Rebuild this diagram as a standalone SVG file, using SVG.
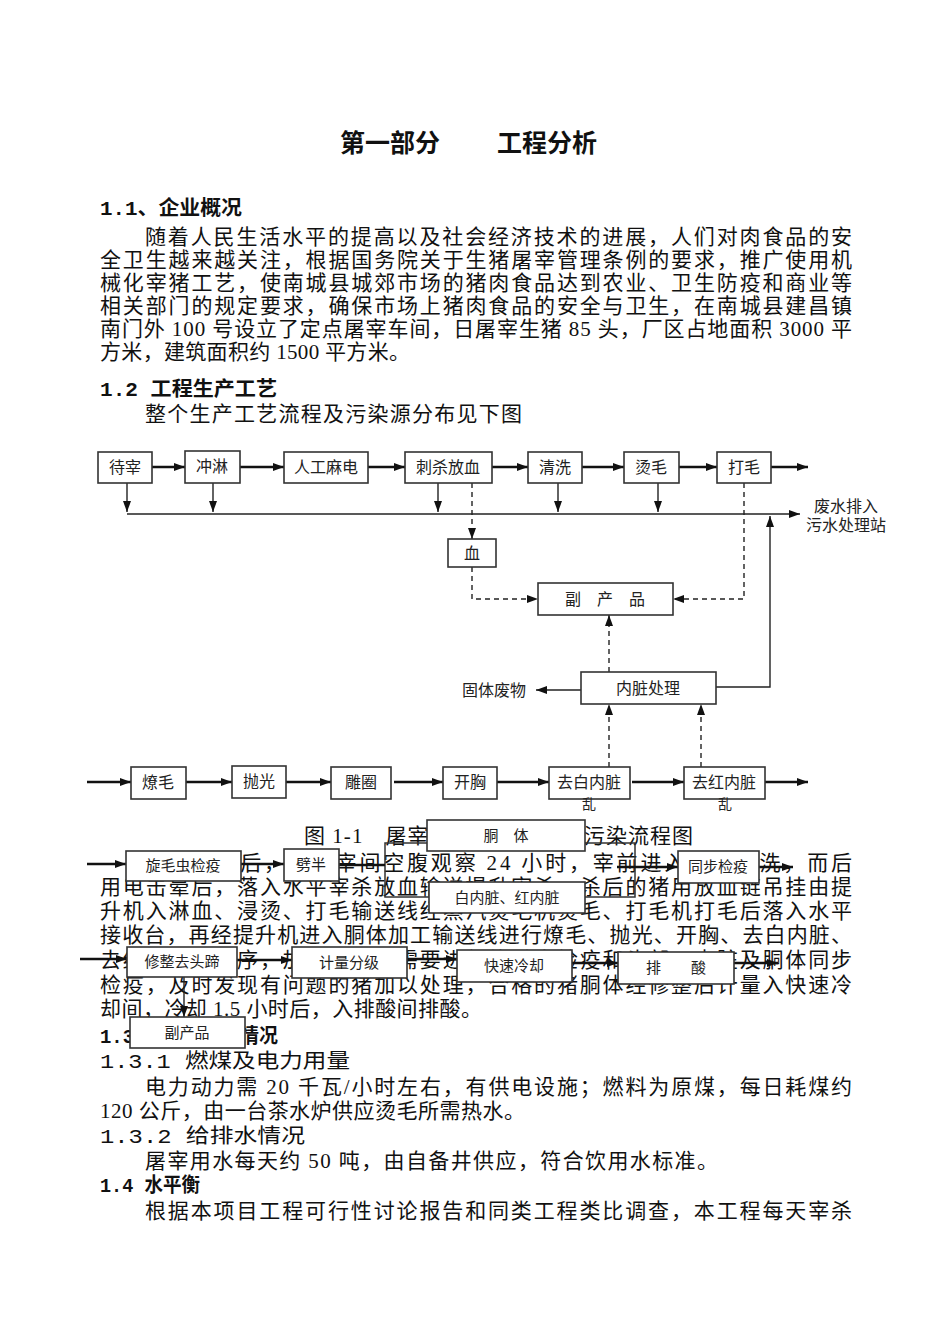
<svg xmlns="http://www.w3.org/2000/svg" width="950" height="1344" viewBox="0 0 950 1344">
<style>
.bg{fill:#fff}
.t{font-family:"Liberation Serif","Noto Sans CJK SC",serif;font-size:21px;fill:#111}
.h{font-family:"Liberation Mono","Noto Sans CJK SC",monospace;font-size:20px;font-weight:bold;fill:#111}
.hn{font-family:"Liberation Mono","Noto Sans CJK SC",monospace;font-size:20px;fill:#111}
.title{font-family:"Noto Sans CJK SC",sans-serif;font-size:25px;font-weight:bold;fill:#111}
.box{fill:#fff;stroke:#333;stroke-width:1.6}
.bl{font-family:"Noto Sans CJK SC",sans-serif;font-size:16px;fill:#222;text-anchor:middle}
.bs{font-family:"Noto Sans CJK SC",sans-serif;font-size:15px;fill:#222;text-anchor:middle}
.thick{stroke:#111;stroke-width:2.6;fill:none}
.thin{stroke:#222;stroke-width:1.4;fill:none}
.dash{stroke:#222;stroke-width:1.4;fill:none;stroke-dasharray:5 4}
</style>
<defs>
<marker id="ah" markerUnits="userSpaceOnUse" markerWidth="11" markerHeight="8" refX="11" refY="4" orient="auto">
<path d="M0,0 L11,4 L0,8 z" fill="#111"/>
</marker>
</defs>
<rect class="bg" x="0" y="0" width="950" height="1344"/>

<g id="text-body">
<text class="title" x="340" y="152">第一部分</text>
<text class="title" x="497" y="152">工程分析</text>
<text class="h" x="100" y="215" textLength="142" lengthAdjust="spacingAndGlyphs">1.1、企业概况</text>
<text class="t" x="145" y="244" textLength="707" lengthAdjust="spacing">随着人民生活水平的提高以及社会经济技术的进展，人们对肉食品的安</text>
<text class="t" x="100" y="267" textLength="752" lengthAdjust="spacing">全卫生越来越关注，根据国务院关于生猪屠宰管理条例的要求，推广使用机</text>
<text class="t" x="100" y="290" textLength="752" lengthAdjust="spacing">械化宰猪工艺，使南城县城郊市场的猪肉食品达到农业、卫生防疫和商业等</text>
<text class="t" x="100" y="313" textLength="752" lengthAdjust="spacing">相关部门的规定要求，确保市场上猪肉食品的安全与卫生，在南城县建昌镇</text>
<text class="t" x="100" y="336" textLength="752" lengthAdjust="spacing">南门外 100 号设立了定点屠宰车间，日屠宰生猪 85 头，厂区占地面积 3000 平</text>
<text class="t" x="100" y="359" textLength="310" lengthAdjust="spacing">方米，建筑面积约 1500 平方米。</text>
<text class="h" x="100" y="396" textLength="177" lengthAdjust="spacingAndGlyphs">1.2 工程生产工艺</text>
<text class="t" x="145" y="421" textLength="377" lengthAdjust="spacing">整个生产工艺流程及污染源分布见下图</text>
<text class="t" x="304" y="843" textLength="389" lengthAdjust="spacing">图 1-1　屠宰车间生产工艺及污染流程图</text>
<text class="t" x="145" y="870" textLength="707" lengthAdjust="spacing">生猪进厂后，在待宰间空腹观察 24 小时，宰前进入淋浴冲洗，而后</text>
<text class="t" x="100" y="894" textLength="752" lengthAdjust="spacing">用电击晕后，落入水平宰杀放血输送提升宰杀，杀后的猪用放血链吊挂由提</text>
<text class="t" x="100" y="918" textLength="752" lengthAdjust="spacing">升机入淋血、浸烫、打毛输送线经蒸汽烫毛机烫毛、打毛机打毛后落入水平</text>
<text class="t" x="100" y="942" textLength="752" lengthAdjust="spacing">接收台，再经提升机进入胴体加工输送线进行燎毛、抛光、开胸、去白内脏、</text>
<text class="t" x="100" y="967" textLength="752" lengthAdjust="spacing">去红内脏等工序，加工过程中需要进行旋毛虫检疫和头部、内脏及胴体同步</text>
<text class="t" x="100" y="992" textLength="752" lengthAdjust="spacing">检疫，及时发现有问题的猪加以处理，合格的猪胴体经修整后计量入快速冷</text>
<text class="t" x="100" y="1016" textLength="382" lengthAdjust="spacing">却间，冷却 1.5 小时后，入排酸间排酸。</text>
<text class="h" x="100" y="1043" textLength="178" lengthAdjust="spacingAndGlyphs">1.3 能源与用水情况</text>
<text class="hn" x="100" y="1068" textLength="250" lengthAdjust="spacingAndGlyphs">1.3.1 燃煤及电力用量</text>
<text class="t" x="145" y="1094" textLength="707" lengthAdjust="spacing">电力动力需 20 千瓦/小时左右，有供电设施；燃料为原煤，每日耗煤约</text>
<text class="t" x="100" y="1118" textLength="425" lengthAdjust="spacing">120 公斤，由一台茶水炉供应烫毛所需热水。</text>
<text class="hn" x="100" y="1143" textLength="205" lengthAdjust="spacingAndGlyphs">1.3.2 给排水情况</text>
<text class="t" x="145" y="1168" textLength="573" lengthAdjust="spacing">屠宰用水每天约 50 吨，由自备井供应，符合饮用水标准。</text>
<text class="h" x="100" y="1192" textLength="100" lengthAdjust="spacingAndGlyphs">1.4 水平衡</text>
<text class="t" x="145" y="1218" textLength="707" lengthAdjust="spacing">根据本项目工程可行性讨论报告和同类工程类比调查，本工程每天宰杀</text>
</g>

<g id="connectors">
<line class="thick" x1="152" y1="467" x2="185" y2="467" marker-end="url(#ah)"/>
<line class="thick" x1="240" y1="467" x2="284" y2="467" marker-end="url(#ah)"/>
<line class="thick" x1="368" y1="467" x2="405" y2="467" marker-end="url(#ah)"/>
<line class="thick" x1="492" y1="467" x2="528" y2="467" marker-end="url(#ah)"/>
<line class="thick" x1="582" y1="467" x2="624" y2="467" marker-end="url(#ah)"/>
<line class="thick" x1="679" y1="467" x2="717" y2="467" marker-end="url(#ah)"/>
<line class="thick" x1="771" y1="467" x2="808" y2="467" marker-end="url(#ah)"/>
<line class="thin" x1="127" y1="514" x2="800" y2="514" marker-end="url(#ah)"/>
<line class="thin" x1="127" y1="483" x2="127" y2="512" marker-end="url(#ah)"/>
<line class="thin" x1="213" y1="483" x2="213" y2="512" marker-end="url(#ah)"/>
<line class="thin" x1="438" y1="483" x2="438" y2="512" marker-end="url(#ah)"/>
<line class="thin" x1="558" y1="483" x2="558" y2="512" marker-end="url(#ah)"/>
<line class="thin" x1="658" y1="483" x2="658" y2="512" marker-end="url(#ah)"/>
<line class="dash" x1="472" y1="483" x2="472" y2="539" marker-end="url(#ah)"/>
<path class="dash" d="M472,567 V599 H538" marker-end="url(#ah)"/>
<path class="dash" d="M744,483 V599 H673" marker-end="url(#ah)"/>
<line class="dash" x1="609" y1="672" x2="609" y2="615" marker-end="url(#ah)"/>
<line class="dash" x1="609" y1="767" x2="609" y2="704" marker-end="url(#ah)"/>
<line class="dash" x1="701" y1="767" x2="701" y2="704" marker-end="url(#ah)"/>
<path class="thin" d="M716,687 H770 V516" marker-end="url(#ah)"/>
<line class="thin" x1="581" y1="690" x2="536" y2="690" marker-end="url(#ah)"/>
<line class="thick" x1="87" y1="782" x2="131" y2="782" marker-end="url(#ah)"/>
<line class="thick" x1="186" y1="782" x2="232" y2="782" marker-end="url(#ah)"/>
<line class="thick" x1="286" y1="782" x2="331" y2="782" marker-end="url(#ah)"/>
<line class="thick" x1="394" y1="782" x2="443" y2="782" marker-end="url(#ah)"/>
<line class="thick" x1="497" y1="782" x2="549" y2="782" marker-end="url(#ah)"/>
<line class="thick" x1="632" y1="782" x2="684" y2="782" marker-end="url(#ah)"/>
<line class="thick" x1="765" y1="782" x2="808" y2="782" marker-end="url(#ah)"/>
<rect x="385" y="843" width="250" height="54" fill="none" stroke="#333" stroke-width="1.5"/>
<line class="thick" x1="87" y1="864" x2="126" y2="864" marker-end="url(#ah)"/>
<line class="thick" x1="241" y1="864" x2="284" y2="864" marker-end="url(#ah)"/>
<line class="thick" x1="339" y1="865" x2="385" y2="865"/>
<line class="thick" x1="617" y1="867" x2="678" y2="867" marker-end="url(#ah)"/>
<line class="thick" x1="759" y1="867" x2="793" y2="867" marker-end="url(#ah)"/>
<line class="thick" x1="80" y1="959" x2="127" y2="959" marker-end="url(#ah)"/>
<line class="thick" x1="237" y1="960" x2="292" y2="960" marker-end="url(#ah)"/>
<line class="thick" x1="407" y1="959" x2="457" y2="959" marker-end="url(#ah)"/>
<line class="thick" x1="572" y1="963" x2="618" y2="963" marker-end="url(#ah)"/>
<line class="thick" x1="734" y1="963" x2="778" y2="963" marker-end="url(#ah)"/>
<line class="thin" x1="184" y1="977" x2="184" y2="1017" marker-end="url(#ah)"/>
</g>

<g id="n-daizai"><rect class="box" x="98" y="452" width="54" height="31"/><text class="bl" x="125" y="473">待宰</text></g>
<g id="n-chonglin"><rect class="box" x="185" y="451" width="55" height="32"/><text class="bl" x="212" y="472">冲淋</text></g>
<g id="n-madian"><rect class="box" x="284" y="452" width="84" height="31"/><text class="bl" x="326" y="473">人工麻电</text></g>
<g id="n-cisha"><rect class="box" x="405" y="452" width="87" height="31"/><text class="bl" x="448" y="473">刺杀放血</text></g>
<g id="n-qingxi"><rect class="box" x="528" y="452" width="54" height="31"/><text class="bl" x="555" y="473">清洗</text></g>
<g id="n-tangmao"><rect class="box" x="624" y="452" width="55" height="31"/><text class="bl" x="651" y="473">烫毛</text></g>
<g id="n-damao"><rect class="box" x="717" y="452" width="54" height="31"/><text class="bl" x="744" y="473">打毛</text></g>
<g id="n-feishui"><text class="bl" x="846" y="512">废水排入</text><text class="bl" x="846" y="531">污水处理站</text></g>
<g id="n-xue"><rect class="box" x="448" y="539" width="48" height="28"/><text class="bl" x="472" y="559">血</text></g>
<g id="n-fuchanpin"><rect class="box" x="538" y="583" width="135" height="32"/><text class="bl" x="605" y="605">副　产　品</text></g>
<g id="n-neizang"><rect class="box" x="581" y="672" width="135" height="32"/><text class="bl" x="648" y="694">内脏处理</text></g>
<g id="n-guti"><text class="bl" x="494" y="696">固体废物</text></g>
<g id="n-liaomao"><rect class="box" x="131" y="767" width="55" height="32"/><text class="bl" x="158" y="788">燎毛</text></g>
<g id="n-paoguang"><rect class="box" x="232" y="766" width="54" height="32"/><text class="bl" x="259" y="787">抛光</text></g>
<g id="n-diaoquan"><rect class="box" x="331" y="767" width="60" height="32"/><text class="bl" x="361" y="788">雕圈</text></g>
<g id="n-kaixiong"><rect class="box" x="443" y="767" width="54" height="32"/><text class="bl" x="470" y="788">开胸</text></g>
<g id="n-qubai"><rect class="box" x="549" y="767" width="81" height="32"/><text class="bl" x="589" y="788">去白内脏</text><text class="bs" x="589" y="809" style="font-size:14px">乱</text></g>
<g id="n-quhong"><rect class="box" x="684" y="767" width="81" height="32"/><text class="bl" x="724" y="788">去红内脏</text><text class="bs" x="725" y="809" style="font-size:14px">乱</text></g>
<g id="n-tongti"><rect class="box" x="427" y="820" width="158" height="31"/><text class="bs" x="506" y="841">胴　体</text></g>
<g id="n-xuanmao"><rect class="box" x="126" y="851" width="115" height="30"/><text class="bs" x="183" y="871">旋毛虫检疫</text></g>
<g id="n-pieban"><rect class="box" x="284" y="849" width="55" height="32"/><text class="bs" x="311" y="870">劈半</text></g>
<g id="n-tongbu"><rect class="box" x="678" y="851" width="81" height="32"/><text class="bs" x="718" y="872">同步检疫</text></g>
<g id="n-bainei"><rect class="box" x="429" y="882" width="156" height="31"/><text class="bs" x="507" y="903">白内脏、红内脏</text></g>
<g id="n-xiuzheng"><rect class="box" x="127" y="947" width="110" height="30"/><text class="bs" x="182" y="967">修整去头蹄</text></g>
<g id="n-jiliang"><rect class="box" x="292" y="947" width="115" height="31"/><text class="bs" x="349" y="968">计量分级</text></g>
<g id="n-kuaisu"><rect class="box" x="457" y="950" width="115" height="32"/><text class="bs" x="514" y="971">快速冷却</text></g>
<g id="n-paisuan"><rect class="box" x="618" y="952" width="116" height="32"/><text class="bs" x="676" y="973">排　　酸</text></g>
<g id="n-fuchanpin2"><rect class="box" x="130" y="1017" width="115" height="31"/><text class="bs" x="187" y="1038">副产品</text></g>
</svg>
